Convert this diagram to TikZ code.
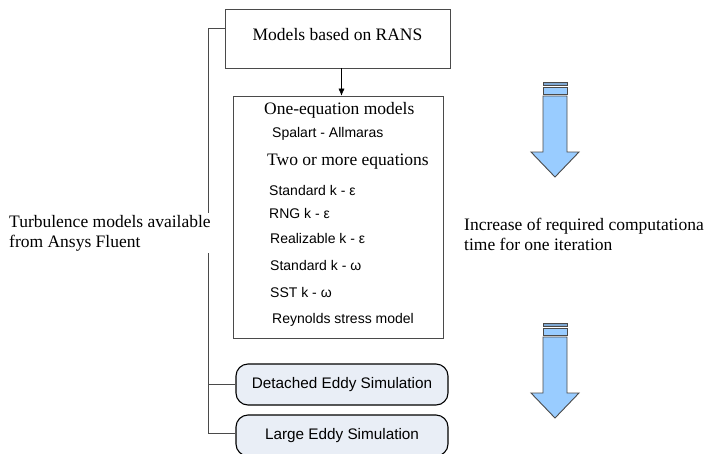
\documentclass[tikz,border=0pt]{standalone}
\usepackage{fontspec}
\setmainfont{Liberation Serif}
\setsansfont{Liberation Sans}
\usetikzlibrary{arrows.meta}
\definecolor{arrowblue}{HTML}{99CCFF}
\definecolor{stripeblue}{HTML}{7FA8D2}
\definecolor{boxgray}{HTML}{4A4A4A}
\definecolor{simfill}{HTML}{E9EEF6}

\begin{document}
\begin{tikzpicture}[x=1pt,y=-1pt,
  serif/.style={font=\fontsize{17.5}{20}\selectfont},
  listitem/.style={anchor=west, inner sep=0pt, font=\sffamily\fontsize{14}{16}\selectfont},
  simbox/.style={draw, line width=1.1pt, rounded corners=12pt, fill=simfill, minimum width=212pt, minimum height=41pt, font=\sffamily\fontsize{15.3}{17}\selectfont},
  bigarrow/.style={draw=boxgray, line width=0.9pt, fill=arrowblue}]
\useasboundingbox (0,0) rectangle (704,453);

% boxes
\node[draw=boxgray, serif, minimum width=225pt, minimum height=59pt, text depth=9pt] (rans) at (337.5,38.5) {Models based on RANS};
\node[draw=boxgray, line width=0.8pt, minimum width=210pt, minimum height=242pt] (models) at (338,217) {};
\node[anchor=west, inner sep=0pt, serif] (one) at (264,110) {One-equation models};
\node[listitem] (spalart) at (272,134) {Spalart - Allmaras};
\node[anchor=west, inner sep=0pt, serif] (two) at (267,162) {Two or more equations};
\node[listitem] (stdke) at (269,190) {Standard k - ε};
\node[listitem] (rngke) at (269,213) {RNG k - ε};
\node[listitem] (realke) at (270,238) {Realizable k - ε};
\node[listitem] (stdkw) at (270,265) {Standard k - ω};
\node[listitem] (sstkw) at (270,292) {SST k - ω};
\node[listitem] (rsm) at (272,320) {Reynolds stress model};
\node[simbox] (des) at (342,384.5) {Detached Eddy Simulation};
\node[simbox] (les) at (342,435.5) {Large Eddy Simulation};

% connectors
\draw[-{Latex[length=7pt,width=6pt]}] ([xshift=4pt]rans.south) -- ([xshift=4pt]rans.south |- models.north);
\coordinate (spine) at (208,28);
\draw[boxgray, line width=0.8pt] (rans.west |- spine) -- (spine) -- (spine |- 0,433) -- (les.west |- 0,433);
\draw[boxgray, line width=0.8pt] (spine |- des.west) -- (des.west);

% side texts
\node[serif, fill=white, align=left, anchor=west, inner sep=2pt] (turb) at (7,233) {Turbulence models available\\from Ansys Fluent};
\node[serif, align=left, anchor=west, inner sep=0pt] (incr) at (464,234) {Increase of required computationa\\time for one iteration};

% arrows
\foreach \dy in {0,241} {
  \draw[bigarrow, fill=stripeblue] (543,82+\dy) rectangle (567,85+\dy);
  \draw[bigarrow] (543,87+\dy) rectangle (567,94+\dy);
  \draw[bigarrow] (543,96+\dy) -- (567,96+\dy) -- (567,152+\dy) -- (579,152+\dy)
    -- (555,177+\dy) -- (531,152+\dy) -- (543,152+\dy) -- cycle;
}
\end{tikzpicture}
\end{document}
